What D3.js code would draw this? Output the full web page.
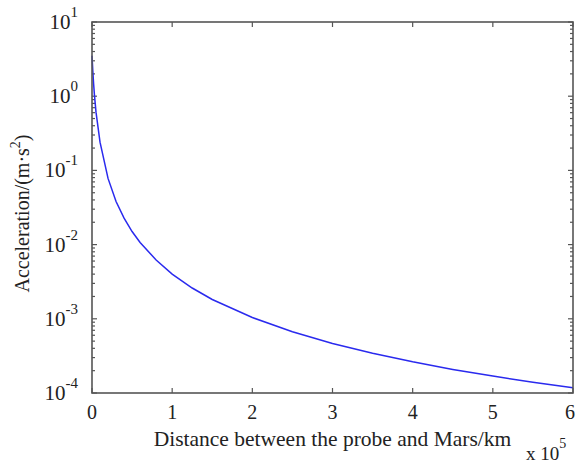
<!DOCTYPE html>
<html>
<head>
<meta charset="utf-8">
<script src="https://cdn.jsdelivr.net/npm/d3@7"></script>
<style>
  body { margin: 0; background: #fff; }
  svg text { font-family: "Liberation Serif", "Times New Roman", serif; fill: #222; }
</style>
</head>
<body>
<div id="container"></div>
<script>
// distance from Mars, in units of 10^5 km
const distance = [0, 0.005, 0.01, 0.02, 0.03, 0.05, 0.1, 0.2, 0.3, 0.4, 0.5, 0.6, 0.8,
  1.0, 1.25, 1.5, 2.0, 2.5, 3.0, 3.5, 4.0, 4.5, 5.0, 5.5, 6.0];
// acceleration, m/s^2
const acceleration = [3.5, 2.8, 2.2, 1.47, 1.05, 0.61, 0.24, 0.078, 0.038, 0.0227, 0.015, 0.0107, 0.0062,
  0.0040, 0.0026, 0.00182, 0.00104, 0.00067, 0.000465, 0.000343, 0.000263, 0.000208, 0.000169, 0.00014, 0.000118];

const xTicks = [0, 1, 2, 3, 4, 5, 6];
const yExponents = [1, 0, -1, -2, -3, -4];

const width = 576, height = 466;
const margin = { top: 22, right: 3, bottom: 73, left: 92 };

const svg = d3.select("#container").append("svg")
  .attr("width", width)
  .attr("height", height);

const x = d3.scaleLinear().domain([0, 6]).range([margin.left, width - margin.right]);
const y = d3.scaleLog().domain([1e-4, 10]).range([height - margin.bottom, margin.top]);

const axisColor = "#555";
const tickLen = 5;

// minor log ticks for the y axis
const minorY = [];
for (let e = -4; e < 1; e++) {
  for (let k = 2; k <= 9; k++) minorY.push(k * Math.pow(10, e));
}
const majorY = yExponents.map(e => Math.pow(10, e));

const ticks = svg.append("g").attr("stroke", axisColor).attr("stroke-width", 1.2);

// x ticks, bottom and top, pointing in
xTicks.forEach(t => {
  ticks.append("line").attr("x1", x(t)).attr("x2", x(t))
    .attr("y1", y(1e-4)).attr("y2", y(1e-4) - tickLen);
  ticks.append("line").attr("x1", x(t)).attr("x2", x(t))
    .attr("y1", y(10)).attr("y2", y(10) + tickLen);
});

// y ticks, left and right
majorY.concat(minorY).forEach(v => {
  const len = majorY.includes(v) ? tickLen : 3;
  ticks.append("line").attr("x1", x(0)).attr("x2", x(0) + len)
    .attr("y1", y(v)).attr("y2", y(v));
  ticks.append("line").attr("x1", x(6)).attr("x2", x(6) - len)
    .attr("y1", y(v)).attr("y2", y(v));
});

// the curve
const line = d3.line()
  .x((d, i) => x(distance[i]))
  .y(d => y(d));

svg.append("path")
  .datum(acceleration)
  .attr("d", line)
  .attr("fill", "none")
  .attr("stroke", "#2a2aee")
  .attr("stroke-width", 1.5);

// frame
svg.append("rect")
  .attr("x", x(0)).attr("y", y(10))
  .attr("width", x(6) - x(0)).attr("height", y(1e-4) - y(10))
  .attr("fill", "none")
  .attr("stroke", axisColor)
  .attr("stroke-width", 1.6);

// x tick labels (last one kept inside the page edge)
svg.selectAll(".xlab")
  .data(xTicks)
  .join("text")
  .attr("class", "xlab")
  .attr("x", d => d === 6 ? width - 1 : x(d))
  .attr("y", y(1e-4) + 26)
  .attr("text-anchor", d => d === 6 ? "end" : "middle")
  .attr("font-size", 20)
  .text(d => d);

// y tick labels 10^n
const ylab = svg.selectAll(".ylab")
  .data(yExponents)
  .join("text")
  .attr("class", "ylab")
  .attr("x", x(0) - 14)
  .attr("y", d => y(Math.pow(10, d)) + 7)
  .attr("text-anchor", "end")
  .attr("font-size", 21);
ylab.append("tspan").text("10");
ylab.append("tspan").attr("dy", -12).attr("font-size", 15).text(d => d);

// axis titles
svg.append("text")
  .attr("x", (x(0) + x(6)) / 2)
  .attr("y", 446)
  .attr("text-anchor", "middle")
  .attr("font-size", 21.5)
  .text("Distance between the probe and Mars/km");

const yt = svg.append("text")
  .attr("transform", `translate(29, ${(y(10) + y(1e-4)) / 2 + 6}) rotate(-90)`)
  .attr("text-anchor", "middle")
  .attr("font-size", 20);
yt.append("tspan").text("Acceleration/(m\u00b7s");
yt.append("tspan").attr("dy", -9).attr("font-size", 14).text("2");
yt.append("tspan").attr("dy", 9).text(")");

// x scale multiplier
const mult = svg.append("text")
  .attr("x", 526)
  .attr("y", 460)
  .attr("font-size", 19);
mult.append("tspan").text("x 10");
mult.append("tspan").attr("dy", -12).attr("font-size", 14).text("5");
</script>
</body>
</html>
